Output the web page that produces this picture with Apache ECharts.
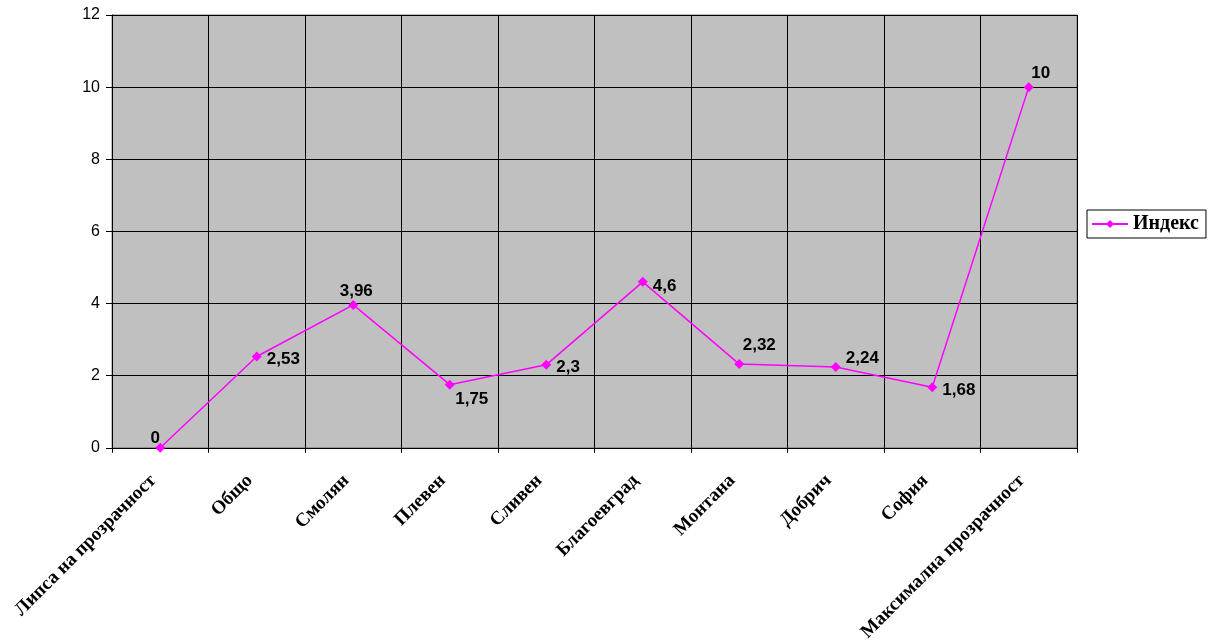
<!DOCTYPE html>
<html>
<head>
<meta charset="utf-8">
<script src="https://cdn.jsdelivr.net/npm/echarts@6/dist/echarts.min.js"></script>
<style>html,body{margin:0;padding:0;background:#fff}#c{width:1215px;height:644px}</style>
</head>
<body>
<div id="c"></div>
<script>
const categories = ['Липса на прозрачност','Общо','Смолян','Плевен','Сливен','Благоевград','Монтана','Добрич','София','Максимална прозрачност'];
const indexValues = [0, 2.53, 3.96, 1.75, 2.3, 4.6, 2.32, 2.24, 1.68, 10];
const yTicks = [0, 2, 4, 6, 8, 10, 12];
const seriesName = 'Индекс';

// label placement per point (style only)
const labelPlacement = [
  {position:'top', offset:[-5,9]},
  {position:'right', offset:[0,3]},
  {position:'top', offset:[3,5]},
  {position:'bottom', offset:[22,-4]},
  {position:'right', offset:[0,3]},
  {position:'right', offset:[0,4]},
  {position:'top', offset:[20,0]},
  {position:'right', offset:[0,-9]},
  {position:'right', offset:[0,3]},
  {position:'top', offset:[12,5]}
];

const chart = echarts.init(document.getElementById('c'));
chart.setOption({
  animation:false,
  backgroundColor:'#ffffff',
  grid:{left:112, right:138, top:15, bottom:195, show:true, backgroundColor:'#C0C0C0', borderColor:'#808080', borderWidth:1},
  legend:{
    left:1087, top:210, orient:'vertical',
    data:[seriesName],
    itemWidth:36, itemHeight:10,
    padding:[4,7,4,4],
    borderColor:'#000', borderWidth:1, backgroundColor:'#fff',
    textStyle:{fontFamily:'Liberation Serif', fontWeight:'bold', fontSize:20, color:'#000'}
  },
  xAxis:{
    type:'category', data:categories, boundaryGap:true,
    axisLine:{lineStyle:{color:'#000', width:1}},
    axisTick:{show:true, length:5, lineStyle:{color:'#000'}},
    splitLine:{show:true, lineStyle:{color:'#000', width:1}},
    axisLabel:{interval:0, rotate:45, margin:23, padding:[0,10,0,0], fontFamily:'Liberation Serif', fontWeight:'bold', fontSize:19, color:'#000'}
  },
  yAxis:{
    type:'value', min:0, max:12, interval:2,
    axisLine:{show:true, lineStyle:{color:'#000', width:1}},
    axisTick:{show:true, length:6, lineStyle:{color:'#000'}},
    splitLine:{show:true, lineStyle:{color:'#000', width:1}},
    axisLabel:{margin:12, fontFamily:'Liberation Sans', fontSize:16, color:'#000',
      formatter:v=> yTicks.includes(v) ? String(v) : ''}
  },
  series:[{
    name:seriesName, type:'line',
    data:indexValues.map((v,i)=>({value:v, label:labelPlacement[i]})),
    symbol:'diamond', symbolSize:10,
    lineStyle:{color:'#FF00FF', width:1.5},
    itemStyle:{color:'#FF00FF'},
    label:{show:true, distance:5, fontFamily:'Liberation Sans', fontWeight:'bold', fontSize:17, color:'#000',
      formatter:p=>String(p.value).replace('.', ',')}
  }]
});
</script>
</body>
</html>
